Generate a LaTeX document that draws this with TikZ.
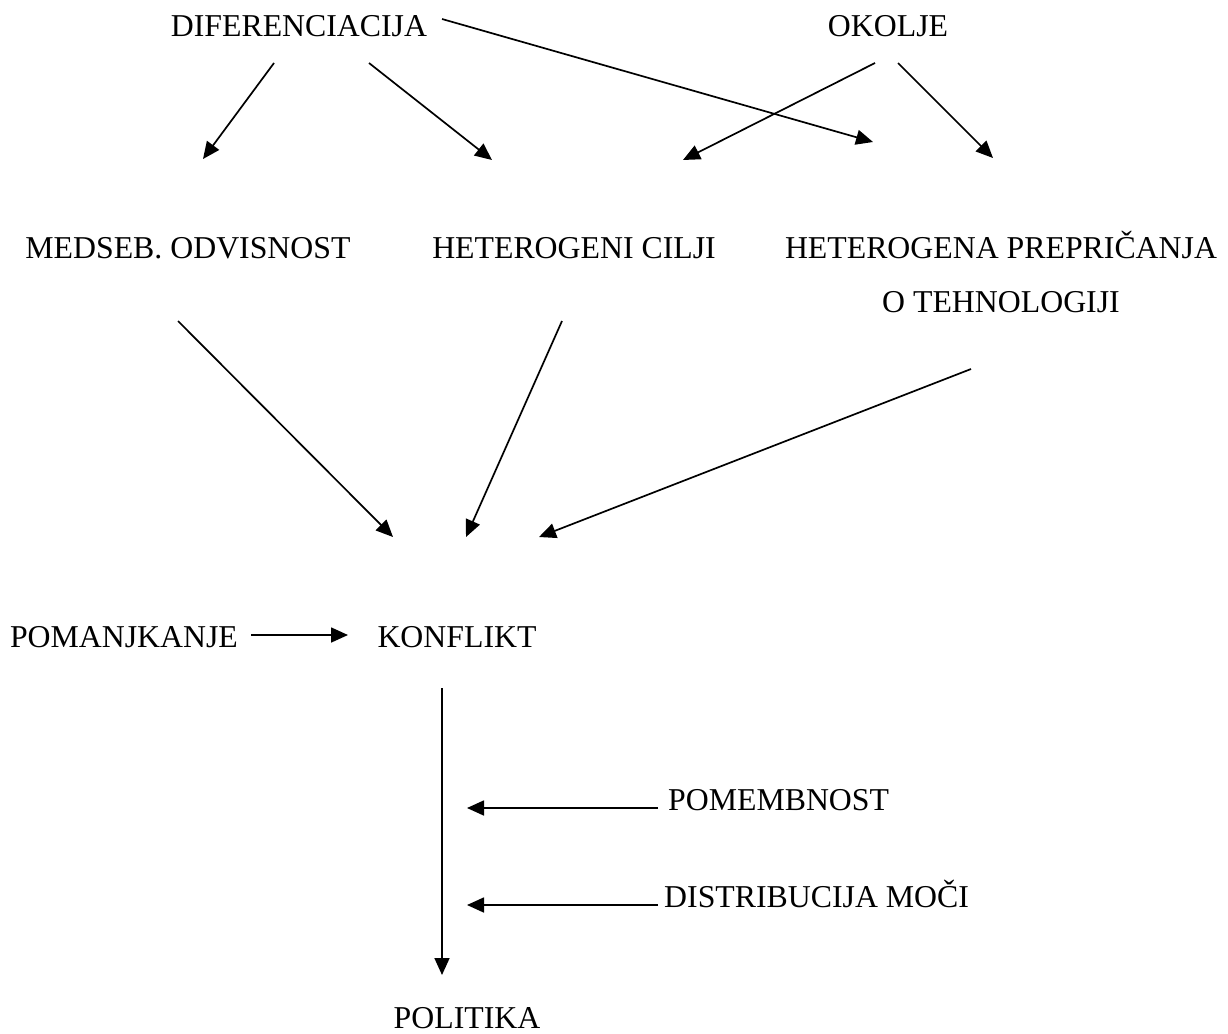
\documentclass[tikz,border=0pt]{standalone}
\usepackage{fontspec}
\setmainfont{Liberation Serif}
\usepackage{tikz}
\usetikzlibrary{arrows.meta}
\tikzset{lbl/.style={inner sep=0pt, anchor=base, font=\fontsize{31.8}{38}\selectfont}}
\tikzset{arr/.style = {-{Triangle[length=17pt, width=15pt]}, line width=1.7pt}}

\begin{document}
\begin{tikzpicture}[x=1pt, y=-1pt]
    \useasboundingbox (0,0) rectangle (1228,1033);

    \node[lbl] (dif) at (299, 37)  {DIFERENCIACIJA};
    \node[lbl] (oko) at (888, 37)  {OKOLJE};
    \node[lbl] (med) at (188, 258) {MEDSEB. ODVISNOST};
    \node[lbl] (cil) at (574, 258) {HETEROGENI CILJI};
    \node[lbl] (pre) at (1001, 258) {HETEROGENA PREPRIČANJA};
    \node[lbl] (teh) at (1001, 312) {O TEHNOLOGIJI};
    \node[lbl] (pom) at (124, 647) {POMANJKANJE};
    \node[lbl] (kon) at (457, 647) {KONFLIKT};
    \node[lbl, anchor=base west] (pmb) at (668, 810) {POMEMBNOST};
    \node[lbl, anchor=base west] (dis) at (664, 907) {DISTRIBUCIJA MOČI};
    \node[lbl] (pol) at (467, 1028) {POLITIKA};

    % arrow ends
    \coordinate (dif-a) at (274, 63);   \coordinate (med-a) at (203, 159);
    \coordinate (dif-b) at (369, 63);   \coordinate (cil-a) at (492, 160);
    \coordinate (dif-c) at (442, 19);   \coordinate (pre-a) at (873, 142);
    \coordinate (oko-a) at (875, 63);   \coordinate (cil-b) at (683, 160);
    \coordinate (oko-b) at (898, 63);   \coordinate (pre-b) at (993, 158);
    \coordinate (med-b) at (178, 321);  \coordinate (kon-a) at (393, 537);
    \coordinate (cil-c) at (562, 321);  \coordinate (kon-b) at (466, 537);
    \coordinate (teh-a) at (971, 369);  \coordinate (kon-c) at (539, 537);
    \coordinate (pom-a) at (251, 635);  \coordinate (kon-d) at (348, 635);
    \coordinate (kon-e) at (442, 688);  \coordinate (pol-a) at (442, 975);
    \coordinate (pmb-a) at (658, 808);  \coordinate (kon-f) at (467, 808);
    \coordinate (dis-a) at (658, 905);  \coordinate (kon-g) at (467, 905);

    \draw[arr] (dif-a) -- (med-a);
    \draw[arr] (dif-b) -- (cil-a);
    \draw[arr] (dif-c) -- (pre-a);
    \draw[arr] (oko-a) -- (cil-b);
    \draw[arr] (oko-b) -- (pre-b);

    \draw[arr] (med-b) -- (kon-a);
    \draw[arr] (cil-c) -- (kon-b);
    \draw[arr] (teh-a) -- (kon-c);

    \draw[arr] (pom-a) -- (kon-d);
    \draw[arr] (kon-e) -- (pol-a);
    \draw[arr] (pmb-a) -- (kon-f);
    \draw[arr] (dis-a) -- (kon-g);

\end{tikzpicture}
\end{document}
